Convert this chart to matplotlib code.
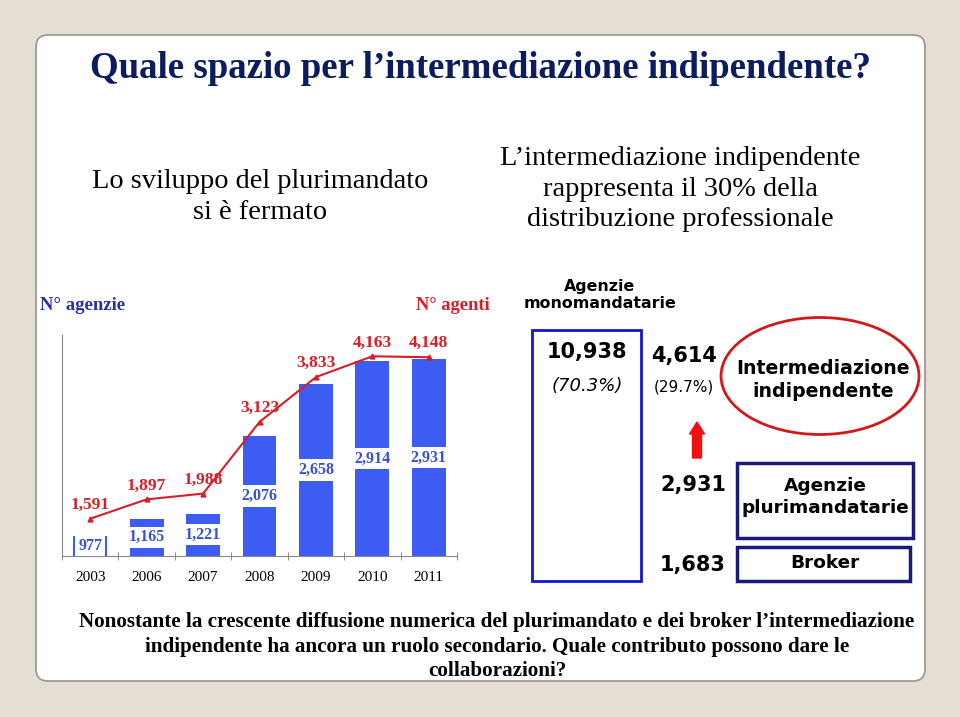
import numpy as np
import matplotlib
matplotlib.use("Agg")
import matplotlib.pyplot as plt
from matplotlib.patches import FancyBboxPatch, Rectangle, Ellipse

# data
years = ["2003", "2006", "2007", "2008", "2009", "2010", "2011"]
agenzie = [977, 1165, 1221, 2076, 2658, 2914, 2931]      # N° agenzie (bars)
agenti = [1591, 1897, 1988, 3123, 3833, 4163, 4148]      # N° agenti (line)
mono = 10938
indip = 4614
pluri = 2931
broker = 1683
share_mono = "(70.3%)"
share_indip = "(29.7%)"

SERIF = "Liberation Serif"
SANS = "DejaVu Sans"
BLUE = "#3c5cf2"
LBLUE = "#3650d6"
RED = "#d81e26"
NAVY = "#0c1c60"

fig = plt.figure(figsize=(9.6, 7.17), dpi=100)
fig.patch.set_facecolor("#e4ded3")

# background layer in pixel coords
bg = fig.add_axes([0, 0, 1, 1], zorder=0)
bg.set_xlim(0, 960)
bg.set_ylim(717, 0)
bg.axis("off")
bg.add_patch(FancyBboxPatch((36, 35), 889, 646, boxstyle="round,pad=0,rounding_size=12",
                            facecolor="white", edgecolor="#a09a94", linewidth=1.3))

bg.text(480, 68, "Quale spazio per l\u2019intermediazione indipendente?", ha="center", va="center",
        fontsize=26.6, fontweight="bold", family=SERIF, color=NAVY)
bg.text(260, 197, "Lo sviluppo del plurimandato\nsi è fermato", ha="center", va="center",
        fontsize=20.4, family=SERIF, linespacing=1.3)
bg.text(680, 189, "L\u2019intermediazione indipendente\nrappresenta il 30% della\ndistribuzione professionale",
        ha="center", va="center", fontsize=20.4, family=SERIF, linespacing=1.3)

bg.text(40, 305, "N° agenzie", ha="left", va="center", fontsize=13.5, fontweight="bold",
        family=SERIF, color="#2b2fa8")
bg.text(416, 305, "N° agenti", ha="left", va="center", fontsize=13.3, fontweight="bold",
        family=SERIF, color=RED)

# right-hand scheme
bg.text(600, 295, "Agenzie\nmonomandatarie", ha="center", va="center", fontsize=11.4,
        fontweight="bold", family=SANS, linespacing=1.15)
bg.add_patch(Rectangle((532, 330), 109, 251, fill=False, edgecolor="#1414d8", linewidth=2))
bg.text(587, 352, f"{mono:,}", ha="center", va="center", fontsize=15, fontweight="bold", family=SANS)
bg.text(587, 386, share_mono, ha="center", va="center", fontsize=13, style="italic", family=SANS)
bg.text(684, 356, f"{indip:,}", ha="center", va="center", fontsize=15, fontweight="bold", family=SANS)
bg.text(684, 387, share_indip, ha="center", va="center", fontsize=11, family=SANS)
bg.add_patch(Ellipse((820, 376), 198, 117, fill=False, edgecolor="#d41818", linewidth=2))
bg.text(823, 380, "Intermediazione\nindipendente", ha="center", va="center", fontsize=13.6,
        fontweight="bold", family=SANS, linespacing=1.25)
bg.arrow(697, 458, 0, -24, width=9, head_width=15, head_length=12, color="#ee1111",
         length_includes_head=False)
bg.text(693, 485, f"{pluri:,}", ha="center", va="center", fontsize=15, fontweight="bold", family=SANS)
bg.add_patch(Rectangle((737, 463), 176, 75, fill=False, edgecolor="#1a1a7a", linewidth=2.5))
bg.text(825, 497, "Agenzie\nplurimandatarie", ha="center", va="center", fontsize=13.3,
        fontweight="bold", family=SANS, linespacing=1.25)
bg.text(693, 565, f"{broker:,}", ha="center", va="center", fontsize=15, fontweight="bold", family=SANS)
bg.add_patch(Rectangle((737, 547), 173, 34, fill=False, edgecolor="#1a1a7a", linewidth=2.5))
bg.text(825, 563, "Broker", ha="center", va="center", fontsize=13.3, fontweight="bold", family=SANS)

bg.text(497, 647, "Nonostante la crescente diffusione numerica del plurimandato e dei broker l\u2019intermediazione\n"
        "indipendente ha ancora un ruolo secondario. Quale contributo possono dare le\ncollaborazioni?",
        ha="center", va="center", fontsize=15.2, fontweight="bold", family=SERIF, linespacing=1.3)

# chart
ax = fig.add_axes([62 / 960, 1 - 556 / 717, 395 / 960, 221 / 717], zorder=2)
ax.patch.set_visible(False)
x = np.arange(len(years))
ax.bar(x, agenzie, width=0.6, color=BLUE, zorder=2)
ax.set_xlim(-0.5, len(years) - 0.5)
ax.set_ylim(750, 3200)
ymin = ax.get_ylim()[0]
for xi, v in zip(x, agenzie):
    ax.text(xi, (ymin + v) / 2, f"{v:,}", ha="center", va="center", fontsize=11.5,
            fontweight="bold", family=SERIF, color=LBLUE, zorder=3,
            bbox=dict(facecolor="white", edgecolor="none", pad=2))
ax.set_xticks(x)
ax.set_xticklabels(years, family=SERIF, fontsize=11)
ax.set_xticks(np.arange(-0.5, len(years), 1), minor=True)
ax.tick_params(axis="x", which="major", length=0, pad=11)
ax.tick_params(axis="x", which="minor", length=6, direction="inout", color="#777777")
ax.set_yticks([])
for s in ["top", "right"]:
    ax.spines[s].set_visible(False)
ax.spines["left"].set_color("#888888")
ax.spines["bottom"].set_color("#888888")

ax2 = ax.twinx()
ax2.set_ylim(1000, 4500)
ax2.plot(x, agenti, color=RED, linewidth=1.5, marker="^", markersize=3.5, zorder=4)
for xi, v in zip(x, agenti):
    ax2.annotate(f"{v:,}", (xi, v), xytext=(0, 10), textcoords="offset points", ha="center",
                 va="center", fontsize=12.5, fontweight="bold", family=SERIF, color=RED)
ax2.set_yticks([])
for s in ax2.spines.values():
    s.set_visible(False)

fig.savefig("out.png", dpi=100)
